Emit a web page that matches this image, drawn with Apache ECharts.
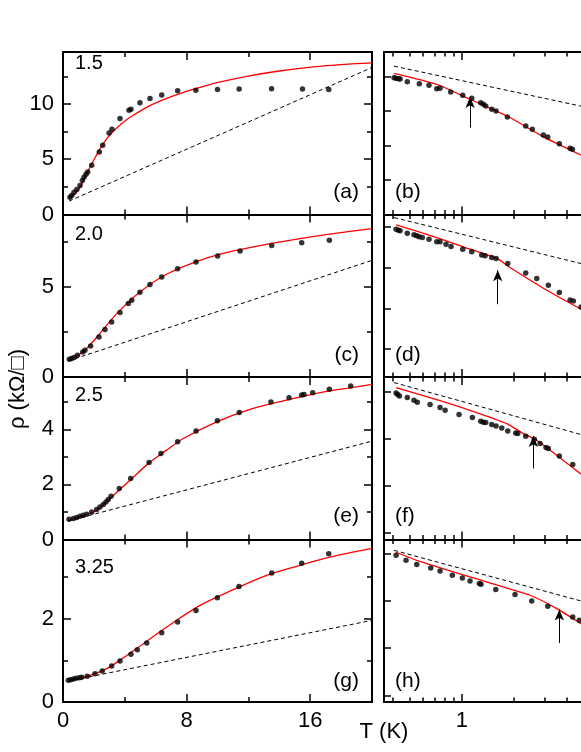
<!DOCTYPE html>
<html><head><meta charset="utf-8">
<script src="https://cdn.jsdelivr.net/npm/echarts@6/dist/echarts.min.js"></script>
<style>html,body{margin:0;padding:0;background:#fff}#c{width:581px;height:752px}</style>
</head><body><div id="c"></div>
<script>
// ---------------- DATA ----------------
const sampleLabels = ['1.5', '2.0', '2.5', '3.25'];
const leftLetters = ['(a)', '(c)', '(e)', '(g)'];
const rightLetters = ['(b)', '(d)', '(f)', '(h)'];
const leftXTicks = [0, 8, 16];
const leftXMax = 20;
const leftYMax = [14.7, 9, 5.9, 3.9];
const leftYStep = [5, 5, 2, 2];
const leftYLabels = [[0, 5, 10], [0, 5], [0, 2, 4], [0, 2]];
const rightXMin = 0.357, rightXMax = 6;
const rightXMajor = [1];
const rightXMinor = [0.4, 0.5, 0.6, 0.7, 0.8, 0.9, 2, 3, 4, 5];
const rightYMin = [0, 0.32, 0.851, 0.858];
const rightYMax = [4.71, 4.30, 4.31, 4.30];
const rightYTicks = [1, 2, 3, 4];

// (a) 1.5
const aPts = [[0.45,1.57],[0.56,1.72],[0.71,2.02],[0.89,2.27],[1.1,2.63],[1.25,3.08],[1.36,3.38],[1.49,3.63],[1.6,3.84],[1.86,4.45],[2.35,5.65],[2.57,6.26],[2.98,7.38],[3.17,7.71],[3.69,8.68],[4.27,9.44],[4.4,9.53],[4.98,10.1],[5.63,10.5],[6.39,10.8],[7.42,11.19],[8.6,11.25],[10.0,11.3],[11.4,11.35],[13.5,11.37],[15.5,11.35],[17.2,11.3]];
const aFit = [[0.39,1.42],[0.8,1.9],[1.1,2.45],[1.5,3.6],[1.75,4.29],[2.1,5.2],[2.4,5.96],[2.8,6.8],[3.26,7.53],[3.9,8.35],[4.55,8.98],[5.63,9.85],[6.71,10.5],[7.8,11.05],[8.87,11.5],[9.9,11.9],[11.9,12.5],[14.0,12.98],[16.2,13.35],[18.2,13.58],[20,13.72]];
const aDash = [[0.39,1.21],[20,13.3]];
// (c) 2.0
const cPts = [[0.41,0.985],[0.56,1.02],[0.71,1.08],[0.93,1.21],[1.28,1.39],[1.42,1.48],[1.79,1.72],[2.33,2.22],[2.72,2.63],[3.15,3.05],[3.69,3.57],[4.23,4.07],[4.45,4.25],[4.98,4.69],[5.63,5.12],[6.39,5.54],[7.42,6.0],[8.61,6.37],[10.01,6.7],[11.46,6.98],[13.51,7.28],[15.45,7.44],[17.24,7.57]];
const cFit = [[0.34,0.93],[0.89,1.15],[1.53,1.58],[2.39,2.41],[3.48,3.51],[4.98,4.71],[6.71,5.69],[8.87,6.46],[11.02,6.98],[13.18,7.35],[15.34,7.66],[17.5,7.94],[20,8.22]];
const cDash = [[0.34,0.89],[20,6.46]];
// (e) 2.5
const ePts = [[0.39,0.735],[0.67,0.76],[0.89,0.796],[1.10,0.844],[1.31,0.88],[1.53,0.916],[1.86,1.0],[2.18,1.087],[2.39,1.182],[2.61,1.269],[2.78,1.364],[2.93,1.451],[3.11,1.571],[3.64,1.851],[4.38,2.214],[5.57,2.796],[6.34,3.124],[7.42,3.545],[8.61,3.935],[9.99,4.309],[11.41,4.615],[13.46,4.989],[14.63,5.145],[15.45,5.244],[15.6,5.269],[16.16,5.327],[17.24,5.451],[18.62,5.571]];
const eFit = [[0.34,0.698],[1.0,0.80],[2.18,1.062],[3.15,1.545],[4.34,2.153],[5.57,2.782],[6.71,3.244],[7.79,3.669],[9.95,4.273],[12.1,4.724],[14.26,5.036],[16.42,5.305],[18.58,5.509],[20,5.633]];
const eDash = [[0.34,0.673],[20,3.571]];
// (g) 3.25
const gPts = [[0.34,0.52],[0.5,0.537],[0.67,0.552],[0.84,0.568],[1.06,0.585],[1.21,0.592],[1.57,0.616],[2.07,0.681],[2.54,0.743],[3.15,0.863],[3.69,0.983],[4.4,1.144],[4.81,1.257],[5.42,1.415],[6.39,1.664],[7.42,1.918],[8.61,2.199],[9.99,2.504],[11.39,2.775],[13.51,3.094],[15.45,3.333],[17.2,3.56]];
const gFit = [[0.34,0.504],[1.75,0.64],[2.83,0.801],[3.9,1.055],[5.2,1.40],[6.71,1.80],[8.87,2.319],[11.02,2.695],[13.18,3.038],[15.34,3.278],[17.2,3.47],[20,3.686]];
const gDash = [[0.34,0.504],[20,1.959]];

// (b)
const bPts = [[0.408,3.965],[0.419,3.948],[0.432,3.936],[0.442,3.928],[0.486,3.849],[0.570,3.791],[0.648,3.745],[0.718,3.646],[0.750,3.658],[0.864,3.551],[1.013,3.455],[1.142,3.368],[1.286,3.241],[1.331,3.194],[1.374,3.145],[1.488,3.049],[1.575,3.0],[1.830,2.826],[2.334,2.565],[2.548,2.470],[2.948,2.304],[3.125,2.246],[3.643,2.052],[4.200,1.919],[4.329,1.890]];
const bFit = [[0.408,4.09],[0.718,3.77],[1.116,3.34],[1.456,3.08],[1.895,2.81],[2.948,2.25],[4.858,1.72]];
const bDash = [[0.408,4.30],[4.858,3.14]];
const bArrow = [1.117, 2.516, 3.406];
// (d)
const dPts = [[0.419,3.941],[0.432,3.917],[0.442,3.900],[0.486,3.843],[0.531,3.801],[0.551,3.777],[0.568,3.752],[0.593,3.735],[0.648,3.696],[0.718,3.630],[0.750,3.630],[0.812,3.574],[0.868,3.515],[1.013,3.451],[1.142,3.385],[1.303,3.311],[1.362,3.287],[1.488,3.245],[1.575,3.221],[1.839,3.098],[2.334,2.870],[2.701,2.730],[3.149,2.569],[3.643,2.387],[4.200,2.208],[4.386,2.184],[4.858,2.037]];
const dFit = [[0.419,4.047],[0.718,3.735],[1.116,3.451],[1.590,3.23],[1.896,3.0],[2.948,2.495],[4.858,1.98]];
const dDash = [[0.408,4.225],[4.858,3.098]];
const dArrow = [1.611, 2.103, 2.936];
// (f)
const fPts = [[0.419,3.970],[0.428,3.936],[0.438,3.906],[0.486,3.872],[0.531,3.815],[0.555,3.772],[0.657,3.723],[0.750,3.660],[0.802,3.602],[0.965,3.511],[1.151,3.447],[1.286,3.368],[1.331,3.347],[1.374,3.340],[1.488,3.298],[1.575,3.268],[1.699,3.226],[1.839,3.162],[2.045,3.119],[2.100,3.106],[2.334,3.049],[2.617,2.985],[2.822,2.894],[3.055,2.809],[3.149,2.787],[3.643,2.630],[4.352,2.447]];
const fFit = [[0.419,4.085],[0.718,3.83],[1.116,3.602],[1.815,3.319],[2.262,3.106],[2.701,2.964],[4.858,2.24]];
const fDash = [[0.408,4.191],[4.858,3.085]];
const fArrow = [2.582, 2.362, 3.055];
// (h)
const hPts = [[0.419,3.966],[0.478,3.860],[0.551,3.769],[0.663,3.697],[0.750,3.633],[0.883,3.542],[1.008,3.485],[1.116,3.422],[1.263,3.367],[1.291,3.352],[1.569,3.239],[2.026,3.133],[2.527,2.998],[3.125,2.886],[4.352,2.659],[4.750,2.589]];
const hFit = [[0.419,4.03],[0.551,3.86],[1.116,3.506],[2.472,3.119],[3.521,2.837],[4.858,2.519]];
const hDash = [[0.408,4.07],[4.858,2.998]];
const hArrow = [3.643, 2.108, 2.816];

// ---------------- LAYOUT ----------------
const FONT = '"Liberation Sans", Arial, Helvetica, sans-serif';
const leftPts = [aPts, cPts, ePts, gPts], leftFit = [aFit, cFit, eFit, gFit], leftDash = [aDash, cDash, eDash, gDash];
const rightPts = [bPts, dPts, fPts, hPts], rightFit = [bFit, dFit, fFit, hFit], rightDash = [bDash, dDash, fDash, hDash];
const rightArrow = [bArrow, dArrow, fArrow, hArrow];
const ROW0 = 52, ROWH = 162.5;
const sampleLabelY = [63.3, 234.2, 395.8, 567.5];
const letterOffsetFromBottom = [22.5, 22, 23, 21];

const lineSty = {color: '#000', width: 2};
const tickSty = {color: '#000', width: 1.5};
const grids = [], xAxes = [], yAxes = [], series = [], graphics = [];

function labelStyle(show, custom, margin) {
  return {show: show, customValues: custom, margin: margin, color: '#000', fontSize: 22, fontFamily: FONT};
}

for (let r = 0; r < 4; r++) {
  const top = ROW0 + r * ROWH;
  const last = r === 3;
  const gl = grids.length;
  grids.push({left: 63, top: top, width: 309, height: ROWH, containLabel: false, outerBoundsMode: 'none'});
  const gr = grids.length;
  grids.push({left: 384, top: top, width: 213, height: ROWH, containLabel: false, outerBoundsMode: 'none'});

  // ---- left panel axes
  const lx = xAxes.length;
  ['bottom', 'top'].forEach(function (pos) {
    xAxes.push({
      type: 'value', gridIndex: gl, position: pos, min: 0, max: leftXMax, interval: 8,
      axisLine: {show: true, onZero: false, lineStyle: lineSty},
      axisTick: {show: true, inside: true, length: 8, lineStyle: tickSty},
      minorTick: {show: true, splitNumber: 2, length: 5, lineStyle: tickSty},
      splitLine: {show: false}, minorSplitLine: {show: false},
      axisLabel: pos === 'bottom' ? labelStyle(last, leftXTicks, 8) : {show: false}
    });
  });
  const ly = yAxes.length;
  ['left', 'right'].forEach(function (pos) {
    yAxes.push({
      type: 'value', gridIndex: gl, position: pos, min: 0, max: leftYMax[r], interval: leftYStep[r],
      axisLine: {show: true, onZero: false, lineStyle: lineSty},
      axisTick: {show: true, inside: true, length: 8, lineStyle: tickSty},
      minorTick: {show: true, splitNumber: 2, length: 5, lineStyle: tickSty},
      splitLine: {show: false}, minorSplitLine: {show: false},
      axisLabel: pos === 'left' ? labelStyle(true, leftYLabels[r], 9) : {show: false}
    });
  });

  // ---- right panel axes (log T)
  const rx = xAxes.length;
  ['bottom', 'top'].forEach(function (pos) {
    xAxes.push({
      type: 'log', logBase: 10, gridIndex: gr, position: pos, min: rightXMin, max: rightXMax,
      axisLine: {show: true, onZero: false, lineStyle: lineSty},
      axisTick: {show: true, inside: true, length: 8, customValues: rightXMajor, lineStyle: tickSty},
      splitLine: {show: false}, minorTick: {show: false},
      axisLabel: pos === 'bottom' ? Object.assign(labelStyle(last, rightXMajor, 8), {formatter: function (v) { return String(Math.round(v)); }}) : {show: false}
    });
    xAxes.push({
      type: 'log', logBase: 10, gridIndex: gr, position: pos, min: rightXMin, max: rightXMax,
      axisLine: {show: false},
      axisTick: {show: true, inside: true, length: 4.5, customValues: rightXMinor, lineStyle: tickSty},
      splitLine: {show: false}, minorTick: {show: false},
      axisLabel: {show: false}
    });
  });
  const ry = yAxes.length;
  yAxes.push({
    type: 'value', gridIndex: gr, position: 'left', min: rightYMin[r], max: rightYMax[r],
    axisLine: {show: true, onZero: false, lineStyle: lineSty},
    axisTick: {show: true, inside: true, length: 7, customValues: rightYTicks, lineStyle: tickSty},
    splitLine: {show: false}, minorTick: {show: false},
    axisLabel: {show: false}
  });

  // ---- series
  series.push({type: 'line', xAxisIndex: lx, yAxisIndex: ly, data: leftDash[r], symbol: 'none', silent: true, z: 2,
    lineStyle: {color: '#000', width: 1, type: [4, 3]}});
  series.push({type: 'line', xAxisIndex: lx, yAxisIndex: ly, data: leftFit[r], symbol: 'none', smooth: 0.3, silent: true, z: 3,
    lineStyle: {color: '#ff0000', width: 1.3}});
  series.push({type: 'scatter', xAxisIndex: lx, yAxisIndex: ly, data: leftPts[r], symbol: 'circle', symbolSize: 5.5, silent: true, z: 4,
    itemStyle: {color: '#000'}});

  series.push({type: 'line', xAxisIndex: rx, yAxisIndex: ry, data: rightDash[r], symbol: 'none', silent: true, z: 2,
    lineStyle: {color: '#000', width: 1, type: [4, 3]}});
  series.push({type: 'line', xAxisIndex: rx, yAxisIndex: ry, data: rightFit[r], symbol: 'none', smooth: 0.2, silent: true, z: 3,
    lineStyle: {color: '#ff0000', width: 1.3}});
  const ar = rightArrow[r];
  series.push({type: 'scatter', xAxisIndex: rx, yAxisIndex: ry, data: rightPts[r], symbol: 'circle', symbolSize: 5.5, silent: true, z: 4,
    itemStyle: {color: '#000'},
    markLine: {silent: true, animation: false, label: {show: false},
      lineStyle: {color: '#000', width: 1, type: 'solid'},
      data: [[{coord: [ar[0], ar[1]], symbol: 'none'}, {coord: [ar[0], ar[2]], symbol: 'arrow', symbolSize: [7, 11]}]]}});

  // ---- texts
  graphics.push({type: 'text', x: 75, y: sampleLabelY[r], z: 10,
    style: {text: sampleLabels[r], font: '20px ' + FONT, fill: '#000', align: 'left', verticalAlign: 'middle'}});
  graphics.push({type: 'text', x: 359, y: top + ROWH - letterOffsetFromBottom[r], z: 10,
    style: {text: leftLetters[r], font: '21px ' + FONT, fill: '#000', align: 'right', verticalAlign: 'middle'}});
  graphics.push({type: 'text', x: 395, y: top + ROWH - letterOffsetFromBottom[r], z: 10,
    style: {text: rightLetters[r], font: '21px ' + FONT, fill: '#000', align: 'left', verticalAlign: 'middle'}});
}

graphics.push({type: 'text', x: 384, y: 732, z: 10,
  style: {text: 'T (K)', font: '22px ' + FONT, fill: '#000', align: 'center', verticalAlign: 'middle'}});
graphics.push({type: 'text', x: 18, y: 389, rotation: Math.PI / 2, z: 10,
  style: {text: 'ρ (kΩ/□)', font: '22px ' + FONT, fill: '#000', align: 'center', verticalAlign: 'middle'}});

const chart = echarts.init(document.getElementById('c'), null, {renderer: 'canvas'});
chart.setOption({
  animation: false,
  backgroundColor: '#fff',
  grid: grids,
  xAxis: xAxes,
  yAxis: yAxes,
  series: series,
  graphic: graphics
});
</script>
</body></html>
